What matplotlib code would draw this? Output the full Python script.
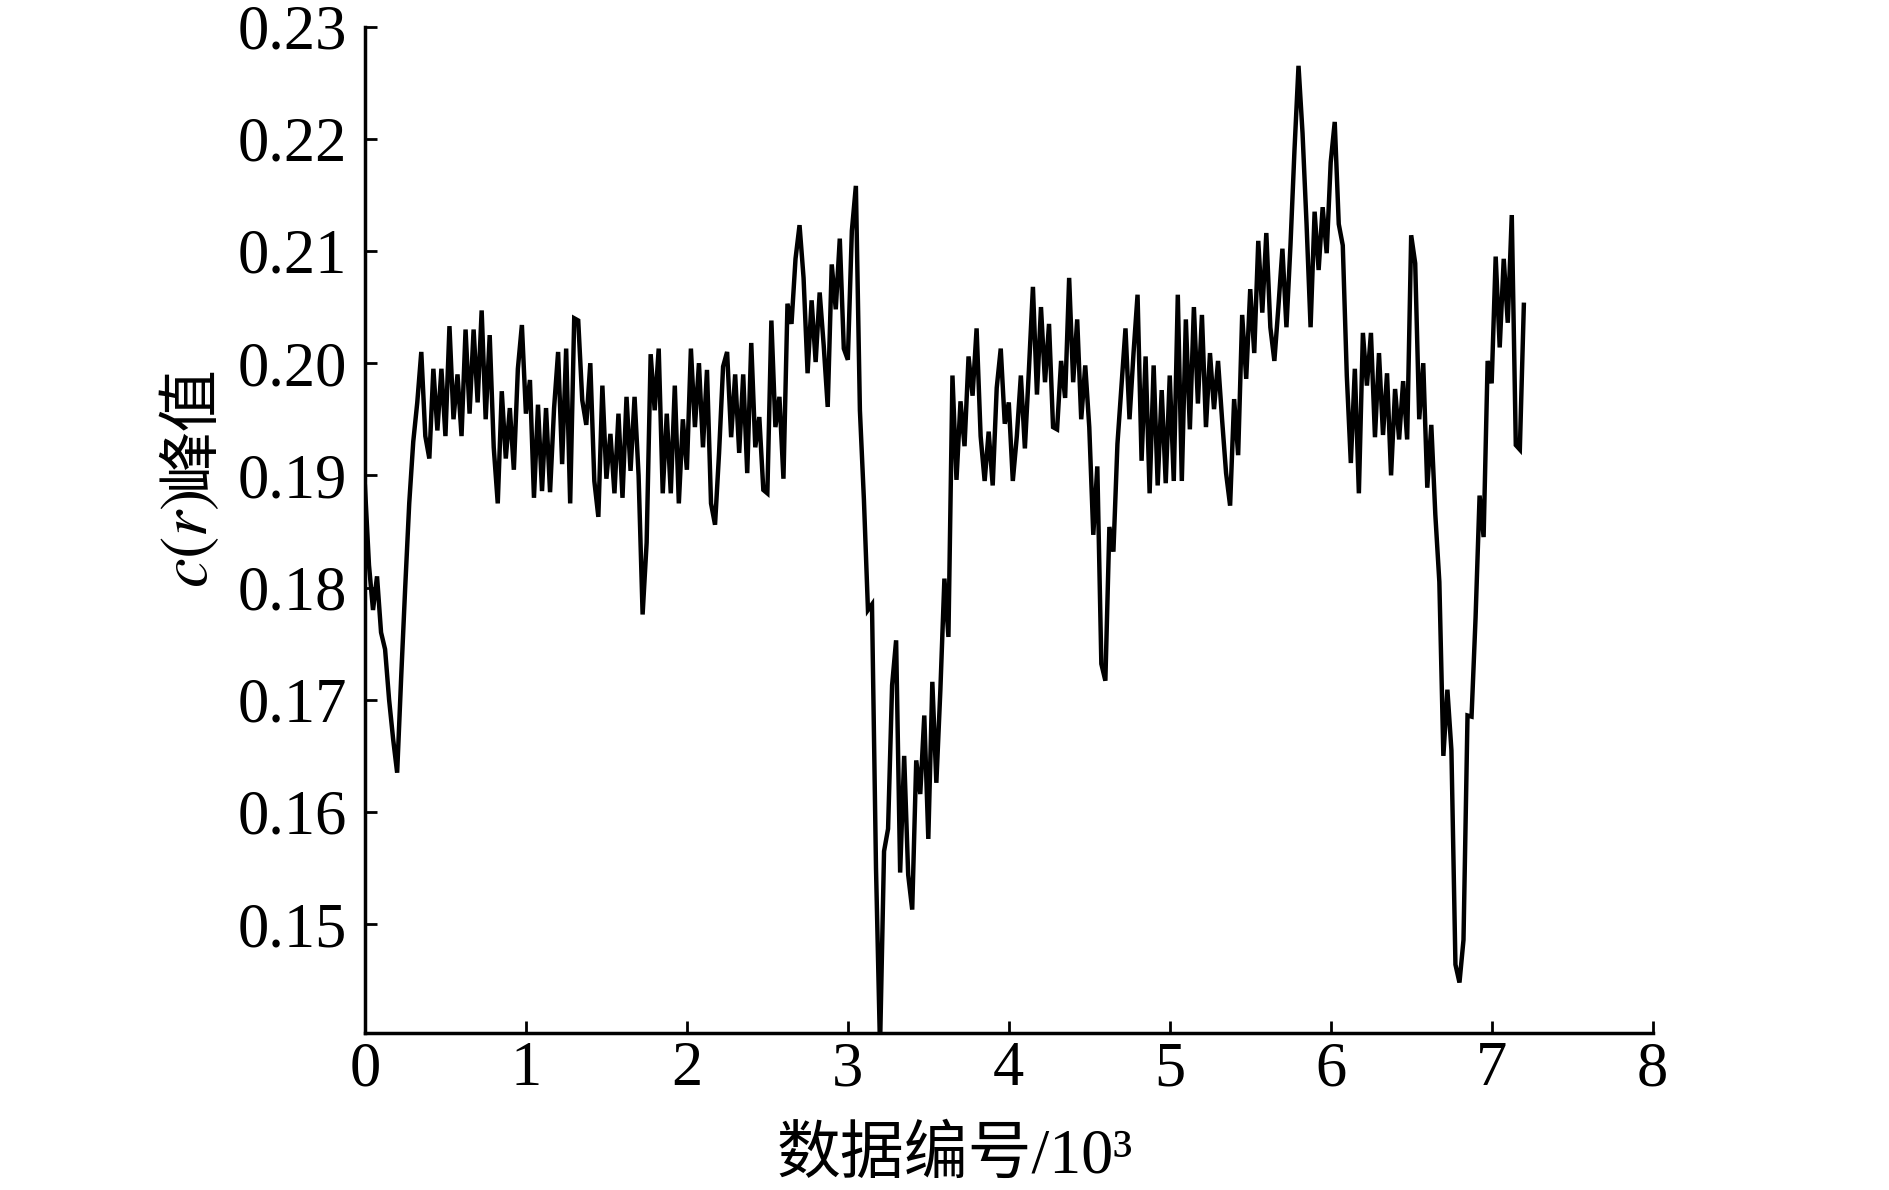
import numpy as np
import matplotlib
matplotlib.use("Agg")
import matplotlib.pyplot as plt

plt.rcParams['font.family'] = ['Liberation Serif', 'Noto Sans CJK SC']
plt.rcParams['mathtext.fontset'] = 'stix'

# sample spacing (data index units) and peak values
step = 25
peak_values = [
    0.189, 0.182, 0.178, 0.181, 0.176, 0.1745, 0.170, 0.1665, 0.1635, 0.172,
    0.180, 0.1875, 0.193, 0.1965, 0.201, 0.1935, 0.1915, 0.1995, 0.194, 0.1995,
    0.1935, 0.2033, 0.195, 0.199, 0.1935, 0.203, 0.1955, 0.203, 0.1965, 0.2047,
    0.195, 0.2025, 0.1925, 0.1875, 0.1975, 0.1915, 0.196, 0.1905, 0.1995, 0.2034,
    0.1955, 0.1985, 0.188, 0.1963, 0.1886, 0.196, 0.1885, 0.196, 0.201, 0.191,
    0.2013, 0.1875, 0.204,
    0.2038, 0.1967, 0.1945, 0.200, 0.1895, 0.1863, 0.198, 0.1897, 0.1937, 0.1884,
    0.1955, 0.188, 0.197, 0.1904, 0.197, 0.190, 0.1776, 0.184, 0.2008, 0.1958,
    0.2013, 0.1884, 0.1955, 0.1884, 0.198, 0.1875, 0.195, 0.1905, 0.2013, 0.1943,
    0.200, 0.1925, 0.1994, 0.1875, 0.1856, 0.192, 0.1997, 0.201, 0.1934, 0.199,
    0.192, 0.199, 0.1902, 0.2018, 0.1925, 0.1952, 0.1887, 0.1884, 0.2038, 0.1943,
    0.197,
    0.1897, 0.2053, 0.2035, 0.2093, 0.2123, 0.2076, 0.1991, 0.2056, 0.2001, 0.2063,
    0.2016, 0.1961, 0.2088, 0.2048, 0.2111, 0.2013, 0.2003, 0.2118, 0.2158, 0.1958,
    0.1878, 0.178, 0.1785, 0.155, 0.139, 0.1565, 0.1585, 0.1713, 0.1753, 0.1546,
    0.165, 0.1544, 0.1513, 0.1646, 0.1616, 0.1686, 0.1576, 0.1716, 0.1626, 0.1709,
    0.1808, 0.1756, 0.1989, 0.1896, 0.1966, 0.1926, 0.2006, 0.1971, 0.2031,
    0.1935, 0.1895, 0.1939, 0.1891, 0.1978, 0.2013, 0.1946, 0.1965, 0.1895, 0.1935,
    0.1989, 0.1924, 0.1994, 0.2068, 0.1972, 0.205, 0.1983, 0.2035, 0.1943, 0.1941,
    0.2002, 0.1969, 0.2076, 0.1983, 0.2039, 0.195, 0.1998, 0.1943, 0.1847, 0.1908,
    0.1732, 0.1717, 0.1854, 0.1832, 0.1928, 0.198, 0.2031, 0.195, 0.2009, 0.2061,
    0.1913, 0.2006, 0.1884, 0.1998, 0.1891, 0.1976, 0.1893, 0.1989, 0.1895, 0.2061,
    0.1895, 0.2039, 0.1941, 0.205, 0.1964, 0.2043, 0.1943, 0.2009, 0.1959, 0.2002,
    0.195, 0.1902, 0.1873, 0.1968, 0.1918, 0.2043, 0.1986, 0.2066, 0.2009, 0.2109,
    0.2045, 0.2116, 0.2032, 0.2002, 0.205, 0.2102, 0.2032, 0.2105, 0.219, 0.2265,
    0.2205, 0.2124, 0.2032, 0.2135, 0.2083, 0.2139, 0.2098, 0.2179, 0.2215, 0.2124,
    0.2105, 0.1989, 0.1911, 0.1995, 0.1884, 0.2027, 0.198, 0.2027, 0.1934, 0.2009,
    0.1936, 0.1991, 0.19, 0.1977, 0.1932, 0.1984, 0.1932, 0.2114, 0.2089, 0.195,
    0.2, 0.1889, 0.1945, 0.1865, 0.1805, 0.165, 0.1709, 0.1655, 0.1464, 0.1448,
    0.1486, 0.1686, 0.1685, 0.1773, 0.1882, 0.1845, 0.2002, 0.1982, 0.2095, 0.2014,
    0.2093, 0.2036, 0.2132, 0.1927, 0.1923, 0.2052,
]
x_ticks = [0, 1, 2, 3, 4, 5, 6, 7, 8]
y_ticks = [0.15, 0.16, 0.17, 0.18, 0.19, 0.20, 0.21, 0.22, 0.23]
x_label = '数据编号/10³'
y_label_math = '$c(r)$'
y_label_cjk = '峰值'

x = np.arange(len(peak_values)) * step / 1000.0

fig = plt.figure(figsize=(18.9, 11.9), dpi=100)
ax = fig.add_axes([0.1931, 0.1319, 0.8744 - 0.1931, 0.9777 - 0.1319])
ax.plot(x, peak_values, color='black', lw=3.2, solid_joinstyle='miter')

ax.set_xlim(0, 8)
ax.set_ylim(0.1403, 0.23)
ax.set_xticks(x_ticks)
ax.set_xticklabels([str(t) for t in x_ticks])
ax.set_yticks(y_ticks)
ax.set_yticklabels([f'{t:.2f}' for t in y_ticks])

for s in ['top', 'right']:
    ax.spines[s].set_visible(False)
for s in ['left', 'bottom']:
    ax.spines[s].set_linewidth(2.5)

ax.tick_params(axis='both', direction='in', length=8.5, width=2.0, labelsize=45)
ax.tick_params(axis='x', pad=6)
ax.tick_params(axis='y', pad=13)

ax.set_xlabel(x_label, fontsize=46)
ax.xaxis.set_label_coords(0.458, -0.094)

# y label: italic math part below, CJK part above, both rotated
ylab_x = 0.1005
ylab_split = 0.589
fig.text(ylab_x, ylab_split, y_label_math, rotation=90, ha='center', va='top', fontsize=48)
fig.text(ylab_x, ylab_split, y_label_cjk, rotation=90, ha='center', va='bottom', fontsize=45,
         family=['Noto Sans CJK SC'])

fig.savefig('out.png', dpi=100)
